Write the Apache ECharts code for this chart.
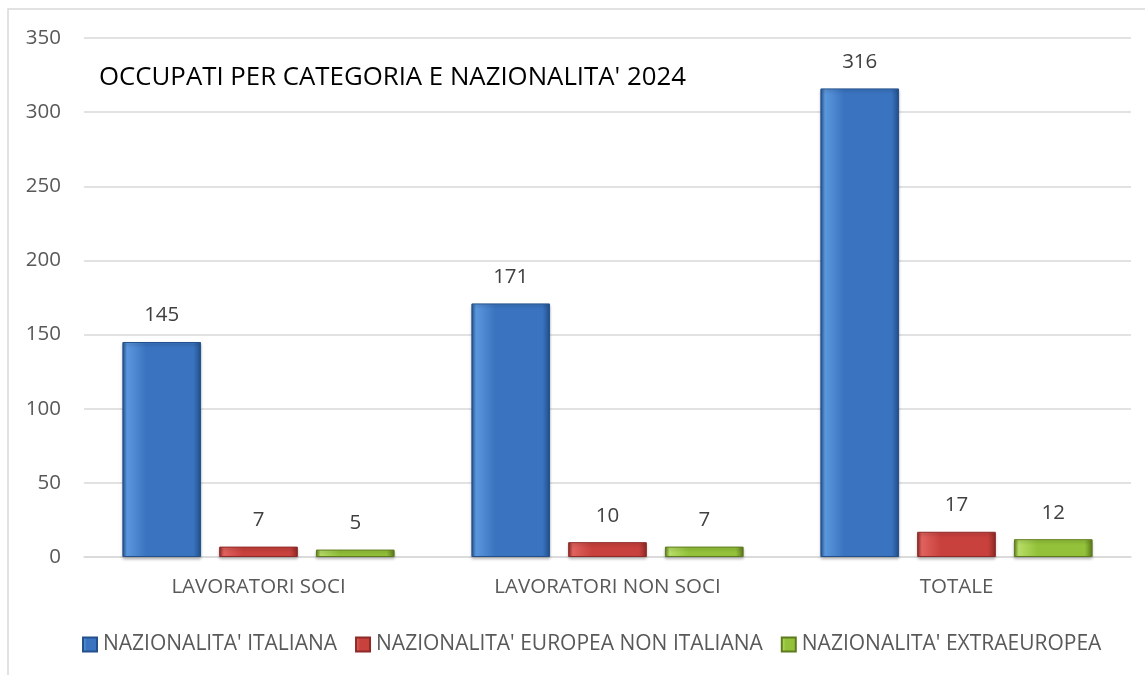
<!DOCTYPE html>
<html>
<head>
<meta charset="utf-8">
<script src="https://cdn.jsdelivr.net/npm/echarts@6/dist/echarts.min.js"></script>
<style>
html,body{margin:0;padding:0;background:#fff;}
#chart{width:1145px;height:675px;}
</style>
</head>
<body>
<div id="chart"></div>
<script>
// dati
var categorie = ['LAVORATORI SOCI', 'LAVORATORI NON SOCI', 'TOTALE'];
var italiana = [145, 171, 316];
var europea = [7, 10, 17];
var extraeuropea = [5, 7, 12];
var nomiSerie = ["NAZIONALITA' ITALIANA", "NAZIONALITA' EUROPEA NON ITALIANA", "NAZIONALITA' EXTRAEUROPEA"];

var font = 'Open Sans';

//gradiente orizzontale per simulare l'effetto smussato
function bevel(dark, mid, light){
	return new echarts.graphic.LinearGradient(0, 0, 1, 0, [
		{offset: 0, color: dark},
		{offset: 0.06, color: light},
		{offset: 0.3, color: mid},
		{offset: 0.9, color: mid},
		{offset: 1, color: dark}
	]);
}

function serie(nome, dati, dark, mid, light){
	return {
		name: nome,
		type: 'bar',
		data: dati,
		barGap: '23%',
		barCategoryGap: '22%',
		itemStyle: {
			color: bevel(dark, mid, light),
			borderColor: dark,
			borderWidth: 1,
			shadowColor: 'rgba(0,0,0,0.25)',
			shadowBlur: 3,
			shadowOffsetY: 2
		},
		label: {
			show: true,
			position: 'top',
			distance: 16,
			color: '#404040',
			fontSize: 20.5,
			fontFamily: font
		}
	};
}

var myChart = echarts.init(document.getElementById('chart'));
var option = {
	animation: false,
	title: {
		text: "OCCUPATI PER CATEGORIA E NAZIONALITA' 2024",
		left: 94,
		top: 60,
		textStyle: {color: '#000', fontSize: 25.8, fontWeight: 'normal', fontFamily: font}
	},
	legend: {
		data: nomiSerie,
		left: 82,
		top: 634,
		padding: 0,
		itemWidth: 14,
		itemHeight: 14,
		itemGap: 18,
		icon: 'rect',
		textStyle: {color: '#595959', fontSize: 21, fontFamily: font, padding: [0, 0, 0, 1]}
	},
	grid: {left: 84, right: 14, top: 38, bottom: 118},
	xAxis: {
		type: 'category',
		data: categorie,
		axisTick: {show: false},
		axisLine: {lineStyle: {color: '#d9d9d9', width: 1.5}},
		axisLabel: {color: '#595959', fontSize: 20.5, fontFamily: font, margin: 20}
	},
	yAxis: {
		type: 'value',
		min: 0,
		max: 350,
		interval: 50,
		axisLabel: {color: '#595959', fontSize: 20.5, fontFamily: font, margin: 23},
		splitLine: {lineStyle: {color: '#d9d9d9', width: 1.5}}
	},
	graphic: [{
		type: 'rect',
		shape: {x: 8, y: 9, width: 1200, height: 1000},
		style: {fill: 'none', stroke: '#d9d9d9', lineWidth: 1.5},
		silent: true,
		z: -1
	}],
	series: [
		serie(nomiSerie[0], italiana, '#24518c', '#3a74c0', '#5b97dd'),
		serie(nomiSerie[1], europea, '#8e2a27', '#c8413d', '#e0625e'),
		serie(nomiSerie[2], extraeuropea, '#5d7a1c', '#93c23a', '#b6dd66')
	]
};
myChart.setOption(option);
</script>
</body>
</html>
